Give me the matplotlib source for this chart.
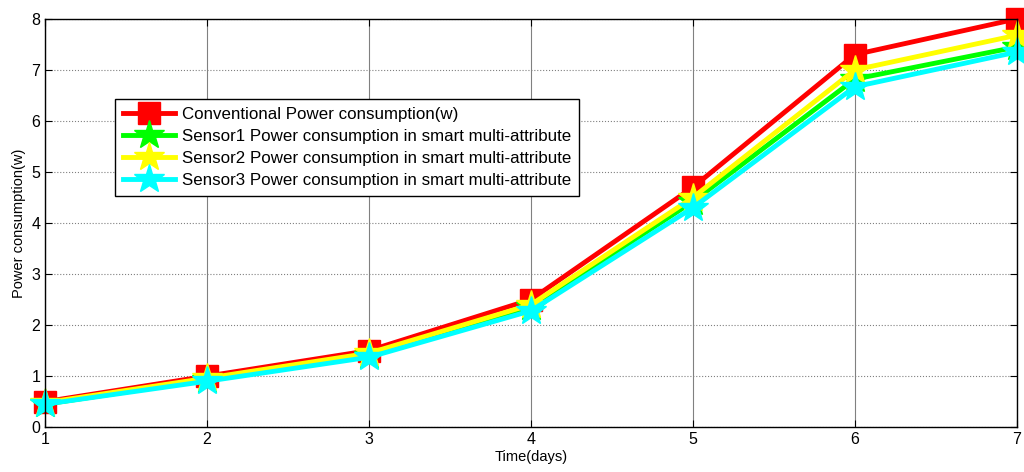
import numpy as np
import matplotlib
matplotlib.use("Agg")
from matplotlib import pyplot as plt

plt.rcParams['font.family'] = ['Liberation Sans', 'DejaVu Sans']

# data
days = [1, 2, 3, 4, 5, 6, 7]
conventional = [0.5, 1.0, 1.5, 2.5, 4.7, 7.3, 8.0]
sensor1 = [0.45, 0.93, 1.4, 2.35, 4.42, 6.82, 7.45]
sensor2 = [0.48, 0.96, 1.45, 2.4, 4.5, 7.0, 7.68]
sensor3 = [0.45, 0.9, 1.37, 2.28, 4.3, 6.67, 7.35]

labels = [
    'Conventional Power consumption(w)',
    'Sensor1 Power consumption in smart multi-attribute',
    'Sensor2 Power consumption in smart multi-attribute',
    'Sensor3 Power consumption in smart multi-attribute',
]

fig = plt.figure(figsize=(10.24, 4.72), dpi=100)
ax = fig.add_axes([0.044, 0.095, 0.949, 0.865])

ax.plot(days, conventional, color='#ff0000', lw=3.5, marker='s', ms=16,
        label=labels[0], clip_on=False)
ax.plot(days, sensor1, color='#00ff00', lw=3.5, marker='*', ms=22,
        label=labels[1], clip_on=False)
ax.plot(days, sensor2, color='#ffff00', lw=3.5, marker='*', ms=22,
        label=labels[2], clip_on=False)
ax.plot(days, sensor3, color='#00ffff', lw=3.5, marker='*', ms=22,
        label=labels[3], clip_on=False)

ax.set_xlim(1, 7)
ax.set_ylim(0, 8)
ax.set_xticks(days)
ax.set_yticks(range(0, 9))

ax.xaxis.grid(True, color='#808080', lw=0.8, ls='-')
ax.yaxis.grid(True, color='#808080', lw=0.8, ls=':')
ax.set_axisbelow(True)

ax.tick_params(direction='in', top=True, right=True, labelsize=11.5, length=5)
for s in ax.spines.values():
    s.set_linewidth(1.0)

ax.set_xlabel('Time(days)', fontsize=10.5, labelpad=2)
ax.set_ylabel('Power consumption(w)', fontsize=10.5, labelpad=4)

leg = ax.legend(loc='upper left', bbox_to_anchor=(0.072, 0.803), fontsize=12.2,
                fancybox=False, edgecolor='black', framealpha=1,
                handlelength=3.1, borderpad=0.45, labelspacing=0.42,
                handletextpad=0.4, borderaxespad=0)
leg.get_frame().set_linewidth(1.0)

fig.savefig('out.png', dpi=100)
